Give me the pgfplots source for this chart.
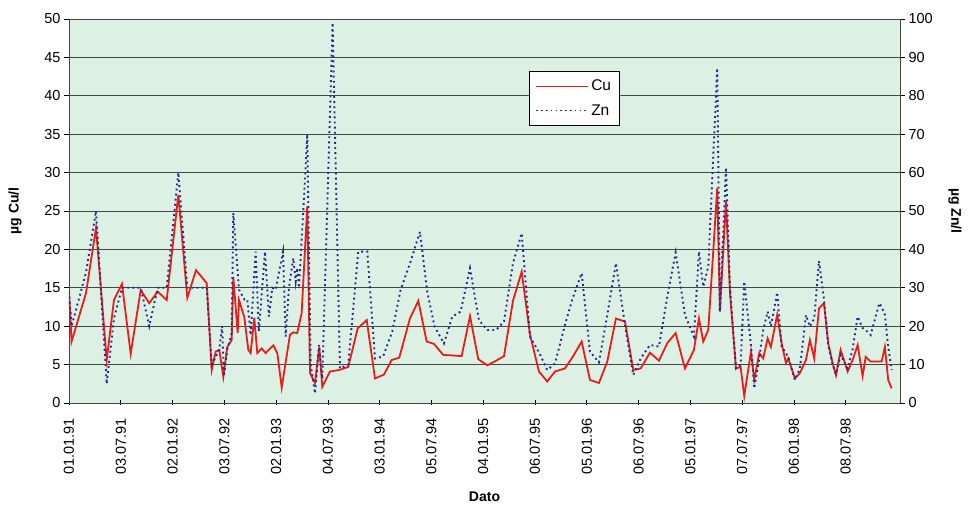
\documentclass[border=0pt]{standalone}
\usepackage{pgfplots}
\pgfplotsset{compat=1.18}
\usepackage{fontspec}
\setmainfont{Liberation Sans}
\usetikzlibrary{calc}
\definecolor{bgmint}{RGB}{220,240,228}
\definecolor{cured}{RGB}{232,30,26}
\definecolor{znblue}{RGB}{40,44,140}
\definecolor{gridgray}{RGB}{70,70,70}

% months since 01.01.91, value
\pgfplotstableread{
m v
0 14.3
0.3 8.0
1.97 14.3
3.13 22.8
4.37 5.6
5.21 13.4
6.14 15.5
7.15 6.4
8.31 14.7
9.30 13.0
10.28 14.5
11.32 13.4
12.67 27.1
13.71 13.7
14.72 17.3
15.96 15.6
16.54 4.3
17.0 6.7
17.42 6.9
17.88 3.4
18.34 7.3
18.85 8.2
19.04 16.4
19.55 9.1
19.70 13.4
20.31 11.2
20.78 6.9
21.05 6.5
21.47 11.1
21.82 6.5
22.33 7.1
22.79 6.5
23.67 7.5
24.14 6.5
24.65 2.0
25.61 8.9
25.99 9.2
26.45 9.1
26.96 11.7
27.61 25.6
27.93 3.9
28.51 2.6
29.0 7.3
29.35 2.1
30.24 4.1
31.32 4.3
32.36 4.7
33.45 9.7
34.50 10.8
35.46 3.2
36.50 3.7
37.39 5.6
38.27 5.9
39.51 11.0
40.48 13.3
41.45 8.0
42.29 7.7
43.37 6.25
44.4 6.2
45.50 6.1
46.47 11.3
47.43 5.7
48.47 4.9
49.48 5.5
50.41 6.1
51.45 13.3
52.46 17.1
53.42 8.9
54.46 4.1
55.42 2.8
56.32 4.1
57.47 4.5
58.37 6.0
59.41 8.0
60.37 3.0
61.41 2.6
62.38 5.4
63.38 11.0
64.43 10.6
65.39 4.3
66.25 4.5
67.32 6.55
68.37 5.5
69.33 7.8
70.30 9.1
71.38 4.5
72.42 6.9
73.0 11.0
73.5 8.0
74.08 9.5
75.12 28.0
75.43 11.9
76.13 26.3
76.6 14.3
77.29 4.5
77.83 4.7
78.25 0.9
79.03 6.7
79.41 3.0
79.99 6.5
80.45 5.8
80.96 8.4
81.34 7.3
82.07 11.5
82.58 7.8
83.08 5.2
83.35 5.8
84.12 3.2
84.70 3.9
85.40 5.6
85.86 8.2
86.36 5.8
86.91 12.3
87.49 13.0
87.98 7.8
88.49 5.2
88.88 3.6
89.42 6.9
90.23 4.1
90.81 5.6
91.39 7.55
91.97 3.5
92.32 6.0
92.90 5.4
94.17 5.4
94.55 7.3
94.93 3.0
95.33 1.9
}\cutable

\pgfplotstableread{
m v
0 29
0.3 20
1.97 34
3.13 50
4.37 5
5.21 22
6.14 30
7.15 30
8.31 30
9.30 20
10.28 30
11.32 30
12.67 60
13.71 30
14.72 30
15.96 30
16.54 10
17.0 12
17.42 14
17.75 20
17.95 7
18.34 14
18.85 18
19.04 49.5
19.70 29.5
20.31 27
20.66 27
21.05 17.7
21.63 39.4
22.0 18.6
22.71 39.4
23.17 22.5
23.56 30
23.95 29.5
24.80 39.4
25.11 17.3
25.49 30
25.99 37.7
26.27 31.6
26.45 35.2
26.65 30
27.23 53.3
27.61 70
28.0 10
28.51 2.5
28.97 15.1
29.35 6.4
30.55 99
31.4 9
32.36 10
33.52 39.4
34.57 39.4
35.46 11.6
36.40 12.1
37.46 18.6
38.42 29.4
39.58 36.8
40.67 44.6
41.51 29
42.37 19.9
43.45 15.5
44.41 22.5
45.38 23.8
46.47 35.1
47.5 21.6
48.47 19
49.5 19
50.41 21.2
51.45 36.4
52.46 44.2
53.42 17.3
54.46 13.2
55.42 8.6
56.32 10.3
57.47 20.3
58.37 27.3
59.41 33.8
60.37 13.4
61.41 10.6
62.38 22.9
63.38 36.4
64.43 20.3
65.39 7.3
66.25 11.6
67.32 15.1
68.37 14.7
69.33 27.7
70.30 39.2
71.38 22.9
72.42 17.3
73.0 39.4
73.5 30.3
74.08 35.5
75.12 87.2
75.43 23.8
76.13 61.3
76.6 30
77.29 9
77.83 10
78.25 31.6
79.03 15
79.41 3.8
79.99 11.6
80.45 19
80.96 23.8
81.34 20
82.07 28.8
82.58 14.7
83.08 13
83.35 12
84.12 6
84.70 9
85.40 22.9
85.86 19.9
86.36 22
86.91 37
87.49 27
87.98 15
88.49 10
88.88 7.5
89.42 12.5
90.23 9
90.81 14
91.39 22.5
91.97 19.5
92.32 19
92.90 17.7
93.9 26
94.17 25
94.55 23
94.93 14.7
95.33 8.6
}\zntable

\pgfplotsset{
  base/.style={
    width=831pt, height=384pt, scale only axis,
    xmin=0, xmax=96.3, ymin=0,
    /pgf/number format/assume math mode=true,
    tick label style={font=\fontsize{14.5}{16}\selectfont},
    tick style={black, line width=0.6pt},
    major tick length=5pt,
  },
  cuStyle/.style={cured, line width=1.8pt},
  znStyle/.style={znblue, line width=1.9pt, dash pattern=on 1.9pt off 3.2pt},
}

\begin{document}
\begin{tikzpicture}
  \begin{axis}[
      base, name=ax,
      ymax=50, ytick={0,5,...,50},
      axis background/.style={fill=bgmint},
      ymajorgrids, grid style={gridgray, line width=0.6pt},
      axis line style={gridgray, line width=0.8pt},
      xtick={0,6,...,90},
      xticklabels={01.01.91,03.07.91,02.01.92,03.07.92,02.01.93,04.07.93,03.01.94,05.07.94,04.01.95,06.07.95,05.01.96,06.07.96,05.01.97,07.07.97,06.01.98,08.07.98},
      xtick pos=bottom, xtick align=center,
      ytick pos=left, ytick align=outside,
      xticklabel style={rotate=90, anchor=east},
      xticklabel shift=9pt,
      xlabel={Dato},
      every axis x label/.style={at={(axis description cs:0.5,-0.245)}, anchor=center,
        font=\bfseries\fontsize{14}{16}\selectfont},
      ylabel={µg Cu/l},
      every axis y label/.style={at={(axis description cs:-0.065,0.5)}, rotate=90, anchor=center,
        font=\bfseries\fontsize{14}{16}\selectfont},
    ]
    \addplot[cuStyle] table[x=m, y=v] {\cutable};
  \end{axis}
  \begin{axis}[
      base,
      ymax=100, ytick={0,10,...,100},
      axis x line=none, axis y line*=right,
      axis line style={gridgray, line width=0.8pt},
      ytick align=outside,
      ylabel={µg Zn/l},
      every axis y label/.style={at={(axis description cs:1.066,0.5)}, rotate=-90, anchor=center,
        font=\bfseries\fontsize{14}{16}\selectfont},
      legend style={at={(axis description cs:0.554,0.865)}, anchor=north west,
        draw=black, line width=0.6pt, fill=white, font=\fontsize{15.5}{17}\selectfont,
        inner xsep=6pt, inner ysep=7pt, row sep=8pt},
      legend cell align=left,
      legend image code/.code={\draw[#1] (0pt,0pt) -- (52pt,0pt);},
    ]
    \addlegendimage{cured, line width=1.2pt}
    \addlegendentry{Cu}
    \addplot[znStyle, forget plot] table[x=m, y=v] {\zntable};
    \addlegendimage{znblue, line width=1.6pt, dash pattern=on 1.6pt off 3.2pt}
    \addlegendentry{Zn}
  \end{axis}
  \path ($(ax.south west)+(-69pt,-104pt)$) rectangle ($(ax.north east)+(70pt,19pt)$);
\end{tikzpicture}
\end{document}
